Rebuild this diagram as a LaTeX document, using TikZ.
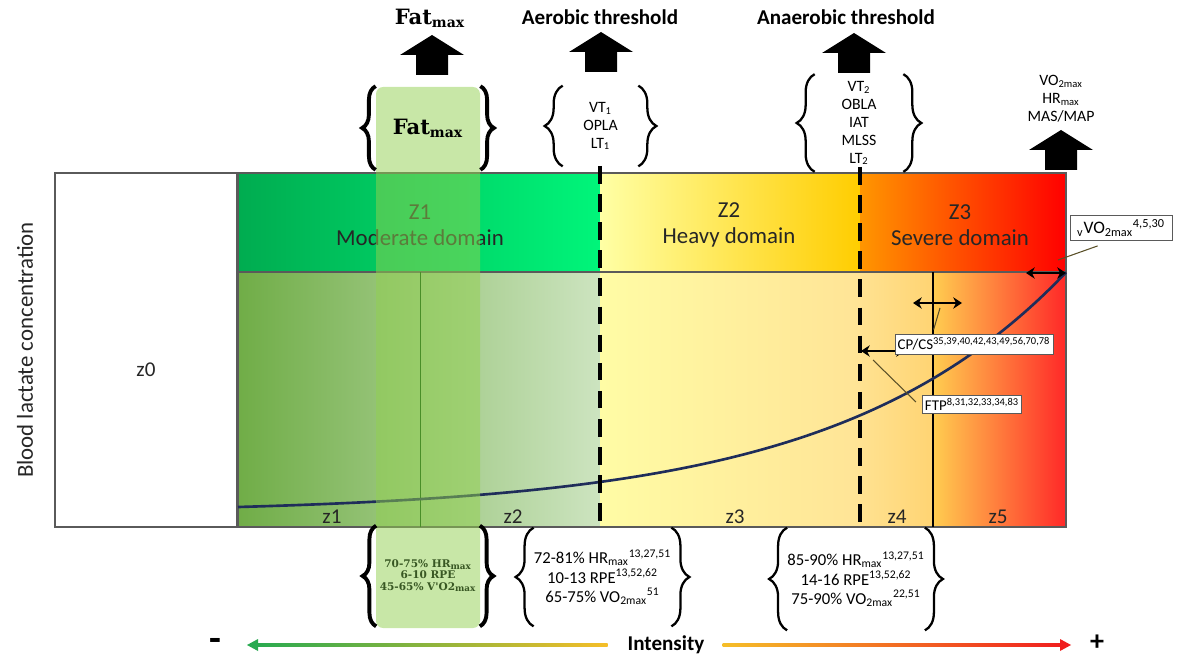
\documentclass[tikz,border=0pt]{standalone}
\usepackage{fontspec}
\setmainfont{Carlito}
\newfontfamily\slabfont{DejaVu Serif}
\usetikzlibrary{arrows.meta,positioning,calc,decorations.pathreplacing}

\definecolor{modL}{RGB}{0,172,80}
\definecolor{modR}{RGB}{0,245,122}
\definecolor{heavyL}{RGB}{255,255,165}
\definecolor{heavyR}{RGB}{255,205,0}
\definecolor{sevL}{RGB}{255,150,0}
\definecolor{sevR}{RGB}{255,0,0}
\definecolor{zaL}{RGB}{112,173,71}
\definecolor{zaR}{RGB}{205,228,192}
\definecolor{zbL}{RGB}{255,252,165}
\definecolor{zbR}{RGB}{255,228,150}
\definecolor{zcL}{RGB}{255,226,145}
\definecolor{zcR}{RGB}{255,212,115}
\definecolor{zdL}{RGB}{255,205,80}
\definecolor{zdM}{RGB}{255,165,60}
\definecolor{zdR}{RGB}{255,40,40}
\definecolor{fatgreen}{RGB}{146,208,80}
\definecolor{fattext}{RGB}{56,87,35}
\definecolor{lactline}{RGB}{31,45,90}
\definecolor{framegray}{RGB}{90,90,90}
\definecolor{intgreen}{RGB}{40,170,80}
\definecolor{intyellow}{RGB}{245,190,40}
\definecolor{intred}{RGB}{240,30,30}
\definecolor{leadercol}{RGB}{90,80,40}

\tikzset{
	domaintxt/.style={font=\fontsize{13}{14.7}\selectfont, align=center, text=black!85},
	zonetxt/.style={font=\fontsize{12}{14}\selectfont, text=black!85},
	thrtitle/.style={font=\bfseries\fontsize{12}{14}\selectfont},
	listbox/.style={font=\fontsize{9}{10.2}\selectfont, align=center, inner sep=0pt},
	rangebox/.style={font=\fontsize{9.5}{11}\selectfont, align=center, inner sep=0pt},
	calloutbox/.style={draw=framegray, fill=white, font=\fontsize{8.5}{10}\selectfont,
		inner sep=1.5pt, line width=0.5pt},
	leaderln/.style={leadercol, line width=0.6pt},
	dblarr/.style={{Stealth[length=5pt,width=6.5pt]}-{Stealth[length=5pt,width=6.5pt]}, line width=1.4pt},
	thrline/.style={line width=2.4pt, dash pattern=on 10pt off 6pt},
	curlyL/.style={decorate, decoration={brace, amplitude=0.36cm}, line width=1.3pt},
	fatcurly/.style={decorate, decoration={brace, amplitude=0.27cm}, line width=2.2pt},
	upblock/.pic={\fill[black] (-16,0) -- (-16,-20) -- (-32,-20) -- (0,-40) -- (32,-20) -- (16,-20) -- (16,0) -- cycle;}
}

\begin{document}
\begin{tikzpicture}[x=0.02cm, y=-0.02cm]
	\useasboundingbox[fill=white] (0,0) rectangle (1186,662);

	% domains (top band)
	\shade[left color=modL, right color=modR] (238,173) rectangle (600,272);
	\shade[left color=heavyL, right color=heavyR] (600,173) rectangle (860,272);
	\shade[left color=sevL, right color=sevR] (860,173) rectangle (1066,272);
	% zones (lower band)
	\shade[left color=zaL, right color=zaR] (238,272) rectangle (600,527);
	\shade[left color=zbL, right color=zbR] (600,272) rectangle (860,527);
	\shade[left color=zcL, right color=zcR] (860,272) rectangle (933,527);
	\shade[left color=zdL, middle color=zdM, right color=zdR] (933,272) rectangle (1066,527);

	\draw[framegray, line width=0.6pt] (55,173) rectangle (237,527);
	\draw[framegray, line width=0.6pt] (238,173) rectangle (1066,527);
	\draw[framegray, line width=0.6pt] (238,272) -- (1066,272);
	\draw[black!70!green, line width=0.5pt] (420,272) -- (420,527);
	\draw[black, line width=0.8pt] (933,272) -- (933,527);

	\node[domaintxt] (modname) at (420,225) {Z1\\Moderate domain};
	\node[domaintxt] (heavyname) at (729,225) {Z2\\Heavy domain};
	\node[domaintxt] (sevname) at (960,225) {Z3\\Severe domain};

	\node[zonetxt] (z0lbl) at (146,370) {z0};
	\node[zonetxt] (z1lbl) at (332,517) {z1};
	\node[zonetxt] (z2lbl) at (513,517) {z2};
	\node[zonetxt] (z3lbl) at (735,517) {z3};
	\node[zonetxt] (z4lbl) at (897,517) {z4};
	\node[zonetxt] (z5lbl) at (998,517) {z5};

	\node[font=\fontsize{13}{15}\selectfont, rotate=90, text=black!85] (ylab) at (25,350) {Blood lactate concentration};

	% lactate curve
	\draw[lactline, line width=1.5pt] plot[domain=238:1066, samples=60, smooth] (\x, {513.5-6.5*exp(0.004359*(\x-238))});

	% Fatmax column
	\fill[fatgreen, opacity=0.5, rounded corners=4pt] (376,87) rectangle (480,628);

	\draw[thrline] (600,166) -- (600,527);
	\draw[thrline] (860,167) -- (860,527);

	% titles and arrows
	\node[font=\slabfont\bfseries\fontsize{12}{14}\selectfont] (fattitle) at (430,18) {Fat\textsubscript{max}};
	\node[thrtitle] (aertitle) at (600,17) {Aerobic threshold};
	\node[thrtitle] (anaertitle) at (846,17) {Anaerobic threshold};
	\pic at (432,75) {upblock};
	\pic at (601,72) {upblock};
	\pic at (854,73) {upblock};
	\pic at (1061,170) {upblock};

	% brace lists, top
	\node[listbox, minimum width=2.08cm, minimum height=1.66cm, font=\slabfont\bfseries\fontsize{12}{14}\selectfont] (fattop) at (428,128) {Fat\textsubscript{max}};
	\node[listbox, minimum width=1.5cm, minimum height=1.6cm] (aerlist) at (600.5,126) {VT\textsubscript{1}\\OPLA\\LT\textsubscript{1}};
	\node[listbox, minimum width=1.76cm, minimum height=1.94cm] (anaerlist) at (859,123) {VT\textsubscript{2}\\OBLA\\IAT\\MLSS\\LT\textsubscript{2}};
	\node[listbox] (vomaxlist) at (1061,99) {VO\textsubscript{2max}\\HR\textsubscript{max}\\MAS/MAP};

	% brace lists, bottom
	\node[listbox, minimum width=2.06cm, minimum height=2cm, text=fattext, font=\slabfont\bfseries\fontsize{6}{6.4}\selectfont] (fatbot) at (428,576) {70-75\% HR\textsubscript{max}\\6-10 RPE\\45-65\% V'O2\textsubscript{max}};
	\node[rangebox, minimum width=2.42cm, minimum height=1.96cm] (aerrange) at (602.5,577) {72-81\% HR\textsubscript{max}\textsuperscript{13,27,51}\\10-13 RPE\textsuperscript{13,52,62}\\65-75\% VO\textsubscript{2max}\textsuperscript{51}};
	\node[rangebox, minimum width=2.44cm, minimum height=2.04cm] (anaerrange) at (856,579) {85-90\% HR\textsubscript{max}\textsuperscript{13,27,51}\\14-16 RPE\textsuperscript{13,52,62}\\75-90\% VO\textsubscript{2max}\textsuperscript{22,51}};

	\foreach \lst in {aerlist,anaerlist,aerrange,anaerrange}{
		\draw[curlyL] (\lst.south west) -- (\lst.north west);
		\draw[curlyL] (\lst.north east) -- (\lst.south east);
	}
	\foreach \lst in {fattop,fatbot}{
		\draw[fatcurly] (\lst.south west) -- (\lst.north west);
		\draw[fatcurly] (\lst.north east) -- (\lst.south east);
	}

	% markers on the curve
	\coordinate (vvoA) at (1026,273);
	\coordinate (vvoB) at (1066,273);
	\coordinate (cpA) at (913,303);
	\coordinate (cpB) at (962,303);
	\coordinate (ftpA) at (861,351);
	\coordinate (ftpB) at (905,351);
	\draw[dblarr] (vvoA) -- (vvoB);
	\draw[dblarr] (cpA) -- (cpB);
	\draw[dblarr] (ftpA) -- (ftpB);

	\node[calloutbox, minimum width=2.04cm, minimum height=0.5cm, font=\fontsize{10}{12}\selectfont] (vvobox) at (1121,228) {\textsubscript{v}VO\textsubscript{2max}\textsuperscript{4,5,30}};
	\node[calloutbox, minimum height=0.4cm] (cpbox) at (974,344) {CP/CS\textsuperscript{35,39,40,42,43,49,56,70,78}};
	\node[calloutbox, minimum height=0.36cm] (ftpbox) at (972,404) {FTP\textsuperscript{8,31,32,33,34,83}};

	\coordinate (vvotip) at (1058,260);
	\coordinate (cptip) at (940,308);
	\coordinate (ftptip) at (873,360);
	\draw[leaderln] ($(vvobox.south west)+(28,5)$) -- (vvotip);
	\draw[leaderln] (cptip) -- ($(cpbox.north west)+(39,-4)$);
	\draw[leaderln] (ftptip) -- ($(ftpbox.west)+(-6,-2)$);

	% intensity axis
	\node[font=\bfseries\fontsize{12}{14}\selectfont] (intens) at (666,645) {Intensity};
	\node[font=\bfseries\fontsize{22}{24}\selectfont] (minus) at (215,645) {-};
	\node[font=\bfseries\fontsize{16}{18}\selectfont] (plus) at (1097,643) {+};
	\coordinate (intL) at (247,645);
	\coordinate (intR) at (1071,645);
	\shade[left color=intgreen, right color=intyellow] ($(intL)+(8,-1.6)$) rectangle ($(intens.west)+(-14,1.6)$);
	\fill[intgreen] (intL) -- ++(11,-6) -- ++(0,12) -- cycle;
	\shade[left color=intyellow, right color=intred] ($(intens.east)+(12,-1.6)$) rectangle ($(intR)+(-8,1.6)$);
	\fill[intred] (intR) -- ++(-11,-6) -- ++(0,12) -- cycle;
\end{tikzpicture}
\end{document}
